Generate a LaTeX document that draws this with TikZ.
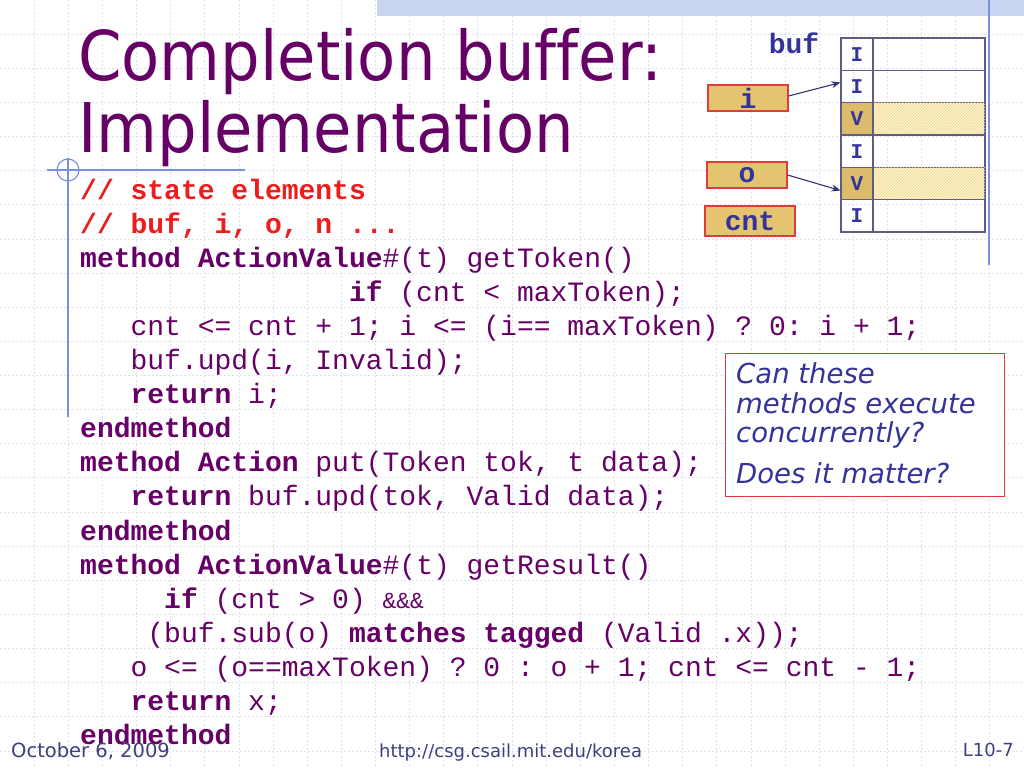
\documentclass[tikz,border=0pt]{standalone}
\usepackage{fontspec}
\setmainfont{DejaVu Sans}
\setmonofont{Liberation Mono}
\newfontfamily\titlefont[FakeStretch=0.91,Ligatures=NoCommon]{DejaVu Sans}
\usetikzlibrary{arrows.meta,patterns}
\definecolor{plum}{HTML}{660066}
\definecolor{codered}{HTML}{EE1C1C}
\definecolor{blueT}{HTML}{333399}
\definecolor{footc}{HTML}{3F3F7F}
\definecolor{tan}{HTML}{E5C470}
\definecolor{vtan}{HTML}{DCBC6A}
\definecolor{hatchbg}{HTML}{FFF4CC}
\definecolor{hatchline}{HTML}{E9D38E}
\definecolor{tableline}{HTML}{5C5C84}
\definecolor{boxred}{HTML}{E23B3B}
\definecolor{arrowc}{HTML}{333377}
\definecolor{decor}{HTML}{7B8FE0}
\definecolor{gridc}{HTML}{DCE2F4}
\definecolor{band}{HTML}{CAD5F1}
\frenchspacing
\tikzset{
  gridline/.style={draw=gridc, line width=0.8pt, dash pattern=on 2pt off 2pt},
  code/.style={font=\ttfamily\fontsize{28}{34}\selectfont, text=plum, inner sep=0pt, anchor=base west},
  comment/.style={code, text=codered, font=\ttfamily\bfseries\fontsize{28}{34}\selectfont},
  titletext/.style={font=\titlefont\fontsize{68.6}{72}\selectfont, text=plum, inner sep=0pt, anchor=base west},
  lcell/.style={draw=tableline, line width=1.1pt, minimum width=32pt, minimum height=32.33pt, inner sep=0pt,
     font=\ttfamily\bfseries\fontsize{21}{21}\selectfont, text=blueT},
  rcell/.style={draw=tableline, line width=1.1pt, minimum width=112pt, minimum height=32.33pt, inner sep=0pt},
  vcell/.style={lcell, fill=vtan},
  hcell/.style={rcell, fill=hatchbg, postaction={pattern=north east lines, pattern color=hatchline}},
  regbox/.style={draw=boxred, fill=tan, line width=1.3pt, inner sep=0pt,
     font=\ttfamily\bfseries\fontsize{28}{28}\selectfont, text=blueT},
  ptr/.style={draw=arrowc, line width=1.1pt, -{Stealth[length=9pt,width=7pt]}},
  notetext/.style={font=\itshape\fontsize{27.5}{31}\selectfont, text=blueT, inner sep=0pt, anchor=base west},
  foot/.style={font=\fontsize{18}{20}\selectfont, text=footc, inner sep=0pt},
}
\begin{document}
\begin{tikzpicture}[x=1pt,y=-1pt]
\useasboundingbox (0,0) rectangle (1024,768);
\fill[white] (0,0) rectangle (1024,768);
% background grid
\foreach \k in {1,...,29} \draw[gridline] (\k*34.133,0) -- (\k*34.133,768);
\foreach \k in {1,...,22} \draw[gridline] (0,\k*34.133) -- (1024,\k*34.133);
% decorations
\fill[band] (377,0) rectangle (1024,16);
\draw[decor, line width=1.5pt] (989,0) -- (989,265);
\draw[decor, line width=1.3pt] (47,170) -- (245,170);
\draw[decor, line width=1.5pt] (68,158) -- (68,417);
\draw[decor, line width=1.1pt] (68,170) circle (11);
% title
\node[titletext] (t1) at (78,80) {Completion buffer:};
\node[titletext] (t2) at (78,152) {Implementation};
% code
\node[comment] (l1) at (80,199) {// state elements};
\node[comment] (l2) at (80,233.1) {// buf, i, o, n ...};
\node[code] (l3) at (80,267.2) {\textbf{method ActionValue}\#(t) getToken()};
\node[code] (l4) at (348.8,301.3) {\textbf{if} (cnt < maxToken);};
\node[code] (l5) at (130.4,335.4) {cnt <= cnt + 1; i <= (i== maxToken) ? 0: i + 1;};
\node[code] (l6) at (130.4,369.5) {buf.upd(i, Invalid);};
\node[code] (l7) at (130.4,403.6) {\textbf{return} i;};
\node[code] (l8) at (80,437.7) {\textbf{endmethod}};
\node[code] (l9) at (80,471.8) {\textbf{method Action} put(Token tok, t data);};
\node[code] (l10) at (130.4,505.9) {\textbf{return} buf.upd(tok, Valid data);};
\node[code] (l11) at (80,540) {\textbf{endmethod}};
\node[code] (l12) at (80,574.1) {\textbf{method ActionValue}\#(t) getResult()};
\node[code] (l13) at (164,608.2) {\textbf{if} (cnt > 0) {\fontsize{23}{24}\selectfont\&\&\&}};
\node[code] (l14) at (147.2,642.3) {(buf.sub(o) \textbf{matches tagged} (Valid .x));};
\node[code] (l15) at (130.4,676.4) {o <= (o==maxToken) ? 0 : o + 1; cnt <= cnt - 1;};
\node[code] (l16) at (130.4,710.5) {\textbf{return} x;};
\node[code] (l17) at (80,744.6) {\textbf{endmethod}};
% buffer table
\node[font=\ttfamily\bfseries\fontsize{28}{28}\selectfont, text=blueT, inner sep=0pt, anchor=base] (buflbl) at (794,54) {buf};
\node[rcell] (r1r) at (929,54.17) {};
\node[rcell] (r2r) at (929,86.5) {};
\node[hcell] (r3r) at (929,118.83) {};
\node[rcell] (r4r) at (929,151.17) {};
\node[hcell] (r5r) at (929,183.5) {};
\node[rcell] (r6r) at (929,215.83) {};
\node[lcell] (r1l) at (857,54.17) {I};
\node[lcell] (r2l) at (857,86.5) {I};
\node[vcell] (r3l) at (857,118.83) {V};
\node[lcell] (r4l) at (857,151.17) {I};
\node[vcell] (r5l) at (857,183.5) {V};
\node[lcell] (r6l) at (857,215.83) {I};
% registers
\node[regbox, minimum width=80pt, minimum height=26pt] (ibox) at (748,98) {i};
\node[regbox, minimum width=80pt, minimum height=26pt] (obox) at (747,175) {o};
\node[regbox, minimum width=90pt, minimum height=30pt] (cntbox) at (750,221) {cnt};
\draw[ptr] ([yshift=2pt]ibox.east) -- ([yshift=4pt]r2l.west);
\draw[ptr] (obox.east) -- ([yshift=-7pt]r5l.west);
% note
\node[draw=boxred, fill=white, line width=1.1pt, minimum width=279pt, minimum height=143pt, anchor=north west, inner sep=0pt] (note) at (725,353) {};
\node[notetext] (n1) at (736,383) {Can these};
\node[notetext] (n2) at (736,413) {methods execute};
\node[notetext] (n3) at (736,442) {concurrently?};
\node[notetext] (n4) at (736,483) {Does it matter?};
% footer
\node[foot, anchor=base west, font=\fontsize{19.5}{20}\selectfont] (f1) at (11,757) {October 6, 2009};
\node[foot, anchor=base west] (f2) at (379,757) {http://csg.csail.mit.edu/korea};
\node[foot, anchor=base east] (f3) at (1014,756) {L10-7};
\end{tikzpicture}
\end{document}
